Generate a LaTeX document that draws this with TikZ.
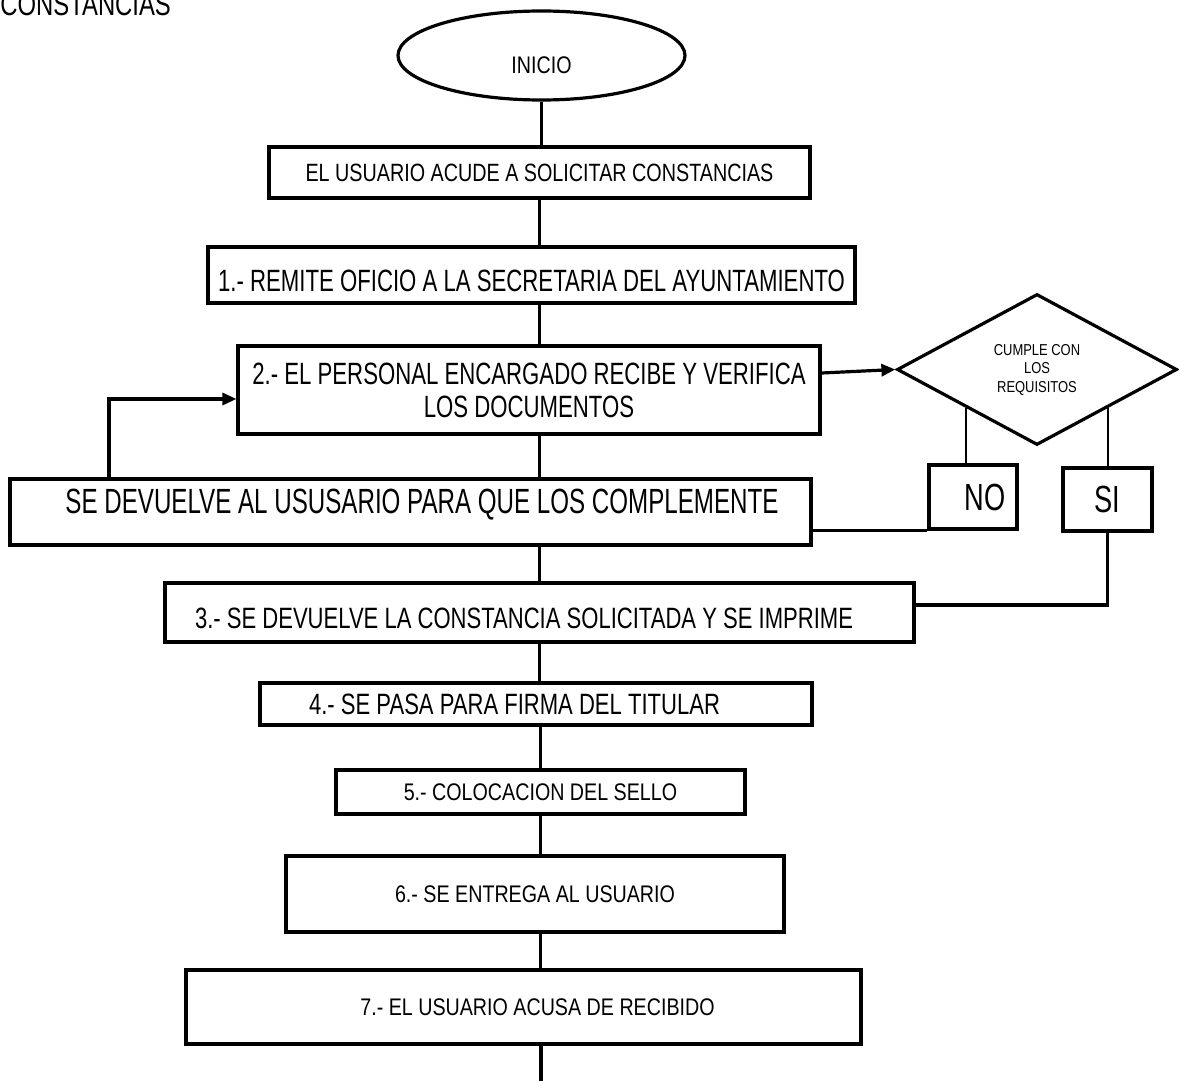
\documentclass[tikz,border=0pt]{standalone}
\usepackage{fontspec}
\setmainfont{Liberation Sans}[FakeStretch=0.82]
\newfontfamily\fsA{Liberation Sans}[FakeStretch=0.69]
\newfontfamily\fsB{Liberation Sans}[FakeStretch=0.72]
\newfontfamily\fsC{Liberation Sans}[FakeStretch=0.75]
\newfontfamily\fsD{Liberation Sans}[FakeStretch=0.79]
\usetikzlibrary{shapes.geometric,arrows.meta,calc}
\begin{document}
\begin{tikzpicture}[x=0.5pt,y=-0.5pt,
  box/.style={draw,line width=1.6pt,rectangle,inner sep=0pt,align=center},
  wh/.style 2 args={minimum width=#1*0.5pt,minimum height=#2*0.5pt},
  conn/.style={line width=1.6pt},
  thinln/.style={line width=0.8pt},
  arr/.style={-{Triangle[length=7pt,width=6pt]}}
]
\useasboundingbox (0,0) rectangle (1179,1081);

\node[anchor=base west,inner sep=0pt,font=\fsC\fontsize{15.9pt}{17pt}\selectfont] (title) at (0,16) {CONSTANCIAS};

\node[draw,ellipse,line width=1.6pt,inner sep=0pt,wh={287}{89},
  font=\fontsize{12pt}{14pt}\selectfont,text height=18pt,text depth=0pt] (start) at (541.5,55.5) {INICIO};

\node[box,wh={541}{51},font=\fsD\fontsize{12.5pt}{14pt}\selectfont] (b1) at (539.5,172.5)
  {EL USUARIO ACUDE A SOLICITAR CONSTANCIAS};

\node[box,wh={647}{56},font=\fsB\fontsize{15.4pt}{17pt}\selectfont,text height=17pt,text depth=0pt] (b2) at (531.5,275)
  {1.- REMITE OFICIO A LA SECRETARIA DEL AYUNTAMIENTO};

\node[box,wh={582}{88},font=\fsB\fontsize{15.4pt}{16.5pt}\selectfont] (b3) at (529,390)
  {2.- EL PERSONAL ENCARGADO RECIBE Y VERIFICA\\LOS DOCUMENTOS};

\node[box,wh={801}{66},font=\fsA\fontsize{17.5pt}{19pt}\selectfont,text height=12.6pt,text depth=11pt] (ret) at (410.5,512)
  {\kern11.5pt SE DEVUELVE AL USUSARIO PARA QUE LOS COMPLEMENTE};

\node[draw,diamond,line width=1.6pt,inner sep=0pt,wh={280}{151},align=center,
  font=\fontsize{7.9pt}{9.25pt}\selectfont] (dia) at (1037,369.5)
  {CUMPLE CON\\LOS\\REQUISITOS};

\node[box,wh={88}{64},font=\fsB\fontsize{18.9pt}{20pt}\selectfont] (no) at (973,497) {\kern12pt NO};
\node[box,wh={89}{63},font=\fsB\fontsize{18.9pt}{20pt}\selectfont] (si) at (1107.5,499.5) {SI};

\node[box,wh={749}{59},font=\fsC\fontsize{14.7pt}{16pt}\selectfont,text height=15.5pt,text depth=0pt] (s3) at (539.5,612.5)
  {3.- SE DEVUELVE LA CONSTANCIA SOLICITADA Y SE IMPRIME\kern15.5pt};

\node[box,wh={552}{42},font=\fsC\fontsize{14.7pt}{16pt}\selectfont] (s4) at (536,704)
  {4.- SE PASA PARA FIRMA DEL TITULAR\kern21.5pt};

\node[box,wh={409}{44},font=\fontsize{12pt}{14pt}\selectfont] (s5) at (540.5,792)
  {5.- COLOCACION DEL SELLO};

\node[box,wh={498}{76},font=\fontsize{12pt}{14pt}\selectfont] (s6) at (535,894)
  {6.- SE ENTREGA AL USUARIO};

\node[box,wh={675}{74},font=\fontsize{12pt}{14pt}\selectfont] (s7) at (523.5,1007)
  {\kern14pt 7.- EL USUARIO ACUSA DE RECIBIDO};

\coordinate (end) at (541,1081);
\coordinate (lp) at (109,0);

% main flow
\draw[conn] (start.south) -- (start.south |- b1.north);
\draw[conn] (b1.south) -- (b1.south |- b2.north);
\draw[conn] (b1.south |- b2.south) -- (b1.south |- b3.north);
\draw[conn] (b1.south |- b3.south) -- (b1.south |- ret.north);
\draw[conn] (b1.south |- ret.south) -- (b1.south |- s3.north);
\draw[conn] (s3.south) -- (s3.south |- s4.north);
\draw[conn] (s5.north |- s4.south) -- (s5.north);
\draw[conn] (s5.south) -- (s5.south |- s6.north);
\draw[conn] (s5.south |- s6.south) -- (s5.south |- s7.north);
\draw[conn] (end |- s7.south) -- (end);

% decision
\draw[conn,arr] ($(b3.east)+(0,-17)$) -- (dia.west);
\draw[thinln] (dia.south west) -- (dia.south west |- no.north);
\draw[thinln] (dia.south east) -- (dia.south east |- si.north);
\draw[conn] (no.south west) -- (no.south west -| ret.east);
\draw[conn] (si.south) |- ($(s3.east)+(0,-7.5)$);
\draw[conn,arr] (lp |- ret.north) |- ($(b3.west)+(0,9)$);
\end{tikzpicture}
\end{document}
